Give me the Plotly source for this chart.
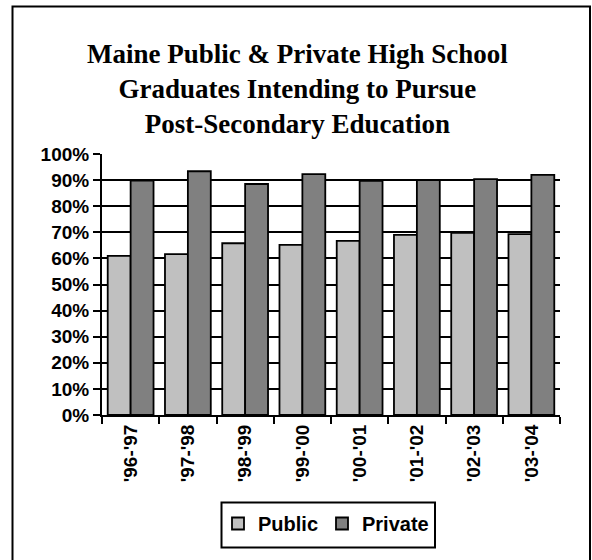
import plotly.graph_objects as go

categories = ["'96-'97", "'97-'98", "'98-'99", "'99-'00", "'00-'01", "'01-'02", "'02-'03", "'03-'04"]
public_vals = [0.610, 0.616, 0.658, 0.652, 0.667, 0.690, 0.698, 0.693]
private_vals = [0.898, 0.934, 0.885, 0.923, 0.897, 0.900, 0.904, 0.920]
title_lines = ["Maine Public & Private High School",
               "Graduates Intending to Pursue",
               "Post-Secondary Education"]

SANS = "Liberation Sans, Arial, sans-serif"
SERIF = "Liberation Serif, Times New Roman, serif"

fig = go.Figure()
fig.add_trace(go.Bar(x=categories, y=public_vals, name="Public", legend="legend",
                     marker=dict(color="#C0C0C0", line=dict(color="black", width=1.8))))
fig.add_trace(go.Bar(x=categories, y=private_vals, name="Private", legend="legend2",
                     marker=dict(color="#808080", line=dict(color="black", width=1.8))))

W, H = 592, 560
L, R, T, B = 102, 560, 154, 415
pw, ph = R - L, B - T

def px(xp):
    return (xp - L) / pw

def py(yp):
    return (B - yp) / ph

legend_common = dict(orientation="h", xanchor="left", yanchor="top", y=py(504),
                     borderwidth=0, bgcolor="rgba(0,0,0,0)",
                     font=dict(family=SANS, size=20, color="black", weight="bold"),
                     itemwidth=30)

fig.update_layout(
    width=W, height=H,
    margin=dict(l=L, r=W - R, t=T, b=H - B, autoexpand=False),
    paper_bgcolor="white", plot_bgcolor="white",
    barmode="group", bargap=0.2, bargroupgap=0,
    showlegend=True,
    legend=dict(x=px(218), **legend_common),
    legend2=dict(x=px(322), **legend_common),
    xaxis=dict(type="category", showgrid=False, showline=True, linecolor="black", linewidth=2,
               ticks="outside", tickson="boundaries", ticklen=7, tickwidth=2, tickcolor="black",
               tickangle=-90,
               tickfont=dict(family=SANS, size=19, color="black", weight="bold")),
    yaxis=dict(range=[0, 1], dtick=0.1, tickformat=".0%", showgrid=True, gridcolor="black",
               gridwidth=2, showline=True, linecolor="black", linewidth=2,
               ticks="outside", ticklen=7, tickwidth=2, tickcolor="black", zeroline=False,
               tickfont=dict(family=SANS, size=19, color="black", weight="bold")),
    shapes=[dict(type="rect", xref="paper", yref="paper",
                 x0=px(12.5), x1=px(590), y0=py(575), y1=py(6.5),
                 line=dict(color="black", width=2), fillcolor="rgba(0,0,0,0)", layer="above"),
            dict(type="rect", xref="paper", yref="paper",
                 x0=px(221.5), x1=px(435), y0=py(547.5), y1=py(502.5),
                 line=dict(color="black", width=2), fillcolor="rgba(0,0,0,0)", layer="above")],
    annotations=[dict(text="<br>".join(title_lines), xref="paper", yref="paper",
                      x=px(297), y=py(89), xanchor="center", yanchor="middle", showarrow=False,
                      font=dict(family=SERIF, size=27, color="black", weight="bold"))],
)

fig.write_html("out.html", config={"displayModeBar": False},
               post_script="document.body.style.margin='0';document.body.style.padding='0';")
